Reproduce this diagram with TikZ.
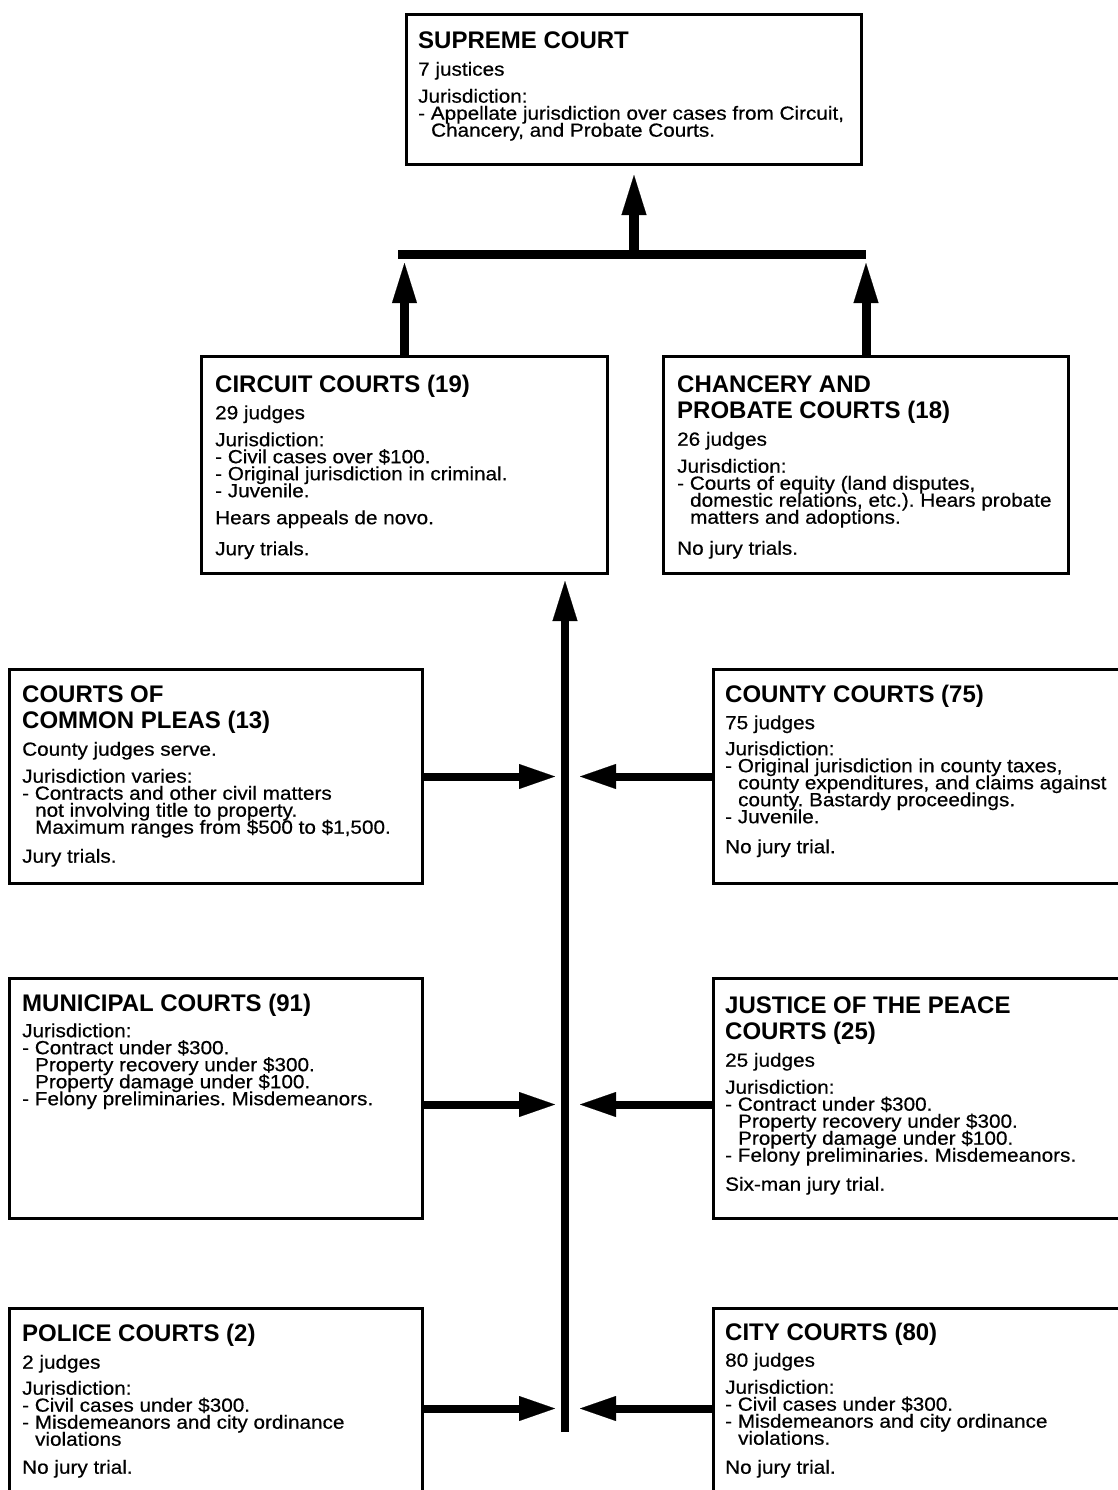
\documentclass[tikz,border=0pt]{standalone}
\usepackage{fontspec}
\setmainfont{Liberation Sans}
\newfontfamily\bodyfont[FakeStretch=1.09,FakeBold=0.5]{Liberation Sans}
\usetikzlibrary{arrows.meta,calc}
\frenchspacing
\newcommand\ctitle[1]{{\normalfont\bfseries\fontsize{24}{17}\selectfont\rule{0pt}{18pt}#1}}
\newcommand\ind{\hspace*{0.68em}}
\tikzset{
  court/.style={draw, line width=3pt, inner sep=0pt, anchor=north west},
  txt/.style={anchor=north west, inner sep=0pt, align=left,
    font={\bodyfont\fontsize{19}{17}\selectfont\frenchspacing\lineskiplimit=-100pt\lineskip=0pt}},
  bigarrow/.style={line width=9pt, -{Triangle[length=40pt,width=25pt,line width=0.1pt]}},
  sidearrow/.style={line width=8pt, -{Triangle[length=36pt,width=25pt,line width=0.1pt]}},
  bar/.style={line width=9pt},
}
\begin{document}
\begin{tikzpicture}[x=1pt,y=-1pt]
\useasboundingbox (0,0) rectangle (1118,1490);

% boxes
\node[court, minimum width=455pt, minimum height=150pt] (supreme) at (405,13) {};
\node[court, minimum width=406pt, minimum height=217pt] (circuit) at (200,355) {};
\node[court, minimum width=405pt, minimum height=217pt] (chancery) at (662,355) {};
\node[court, minimum width=413pt, minimum height=214pt] (pleas) at (8,668) {};
\node[court, minimum width=410pt, minimum height=214pt] (county) at (712,668) {};
\node[court, minimum width=413pt, minimum height=240pt] (municipal) at (8,977) {};
\node[court, minimum width=410pt, minimum height=240pt] (justice) at (712,977) {};
\node[court, minimum width=413pt, minimum height=188pt] (police) at (8,1307) {};
\node[court, minimum width=410pt, minimum height=188pt] (city) at (712,1307) {};

% texts
\node[txt] (supremet) at ($(supreme.north west)+(13,17)$) {\ctitle{SUPREME COURT}\\[10.5pt]
7 justices\\[10pt]
Jurisdiction:\\
- Appellate jurisdiction over cases from Circuit,\\
\ind Chancery, and Probate Courts.};

\node[txt] (circuitt) at ($(circuit.north west)+(15,19)$) {\ctitle{CIRCUIT COURTS (19)}\\[10pt]
29 judges\\[10pt]
Jurisdiction:\\
- Civil cases over \$100.\\
- Original jurisdiction in criminal.\\
- Juvenile.\\[10pt]
Hears appeals de novo.\\[14pt]
Jury trials.};

\node[txt] (chanceryt) at ($(chancery.north west)+(15,19)$) {\ctitle{CHANCERY AND}\\[9pt]
\ctitle{PROBATE COURTS (18)}\\[10.5pt]
26 judges\\[10pt]
Jurisdiction:\\
- Courts of equity (land disputes,\\
\ind domestic relations, etc.). Hears probate\\
\ind matters and adoptions.\\[14pt]
No jury trials.};

\node[txt] (pleast) at ($(pleas.north west)+(14,16)$) {\ctitle{COURTS OF}\\[9pt]
\ctitle{COMMON PLEAS (13)}\\[10.5pt]
County judges serve.\\[10pt]
Jurisdiction varies:\\
- Contracts and other civil matters\\
\ind not involving title to property.\\
\ind Maximum ranges from \$500 to \$1,500.\\[12pt]
Jury trials.};

\node[txt] (countyt) at ($(county.north west)+(13,16)$) {\ctitle{COUNTY COURTS (75)}\\[10pt]
75 judges\\[9pt]
Jurisdiction:\\
- Original jurisdiction in county taxes,\\
\ind county expenditures, and claims against\\
\ind county. Bastardy proceedings.\\
- Juvenile.\\[13pt]
No jury trial.};

\node[txt] (municipalt) at ($(municipal.north west)+(14,16)$) {\ctitle{MUNICIPAL COURTS (91)}\\[9pt]
Jurisdiction:\\
- Contract under \$300.\\
\ind Property recovery under \$300.\\
\ind Property damage under \$100.\\
- Felony preliminaries. Misdemeanors.};

\node[txt] (justicet) at ($(justice.north west)+(13,18)$) {\ctitle{JUSTICE OF THE PEACE}\\[9pt]
\ctitle{COURTS (25)}\\[10.5pt]
25 judges\\[10pt]
Jurisdiction:\\
- Contract under \$300.\\
\ind Property recovery under \$300.\\
\ind Property damage under \$100.\\
- Felony preliminaries. Misdemeanors.\\[12pt]
Six-man jury trial.};

\node[txt] (policet) at ($(police.north west)+(14,16)$) {\ctitle{POLICE COURTS (2)}\\[10.5pt]
2 judges\\[9pt]
Jurisdiction:\\
- Civil cases under \$300.\\
- Misdemeanors and city ordinance\\
\ind violations\\[11pt]
No jury trial.};

\node[txt] (cityt) at ($(city.north west)+(13,15)$) {\ctitle{CITY COURTS (80)}\\[9.5pt]
80 judges\\[10pt]
Jurisdiction:\\
- Civil cases under \$300.\\
- Misdemeanors and city ordinance\\
\ind violations.\\[12pt]
No jury trial.};

% top junction
\coordinate (barL) at (398,254);
\coordinate (barR) at (866,254);
\draw[bar] (barL) -- (barR);
\coordinate (barM) at (supreme.south |- barL);
\coordinate (tipS) at ($(supreme.south)+(0,9)$);
\draw[bigarrow, line width=10pt] (barM) -- (tipS);
\coordinate (tipC) at ($(circuit.north)+(0,-92)$);
\coordinate (tipH) at ($(chancery.north)+(0,-92)$);
\draw[bigarrow] (circuit.north) -- (tipC);
\draw[bigarrow] (chancery.north) -- (tipH);

% spine
\coordinate (spineTip) at ($(circuit.south west)+(365,6)$);
\coordinate (spineBot) at (spineTip |- 0,1432);
\draw[bigarrow, line width=8pt] (spineBot) -- (spineTip);

% side arrows
\coordinate (pleasTip) at ($(pleas.east)+(131,0)$);
\draw[sidearrow] (pleas.east) -- (pleasTip);
\coordinate (countyTip) at ($(county.west)+(-132,0)$);
\draw[sidearrow] (county.west) -- (countyTip);

\coordinate (munS) at ($(municipal.east)+(0,6)$);
\coordinate (munTip) at ($(munS)+(131,0)$);
\draw[sidearrow] (munS) -- (munTip);
\coordinate (jusS) at ($(justice.west)+(0,6)$);
\coordinate (jusTip) at ($(jusS)+(-132,0)$);
\draw[sidearrow] (jusS) -- (jusTip);

\coordinate (polS) at ($(police.east)+(0,6)$);
\coordinate (polTip) at ($(polS)+(131,0)$);
\draw[sidearrow] (polS) -- (polTip);
\coordinate (citS) at ($(city.west)+(0,6)$);
\coordinate (citTip) at ($(citS)+(-132,0)$);
\draw[sidearrow] (citS) -- (citTip);
\end{tikzpicture}
\end{document}
